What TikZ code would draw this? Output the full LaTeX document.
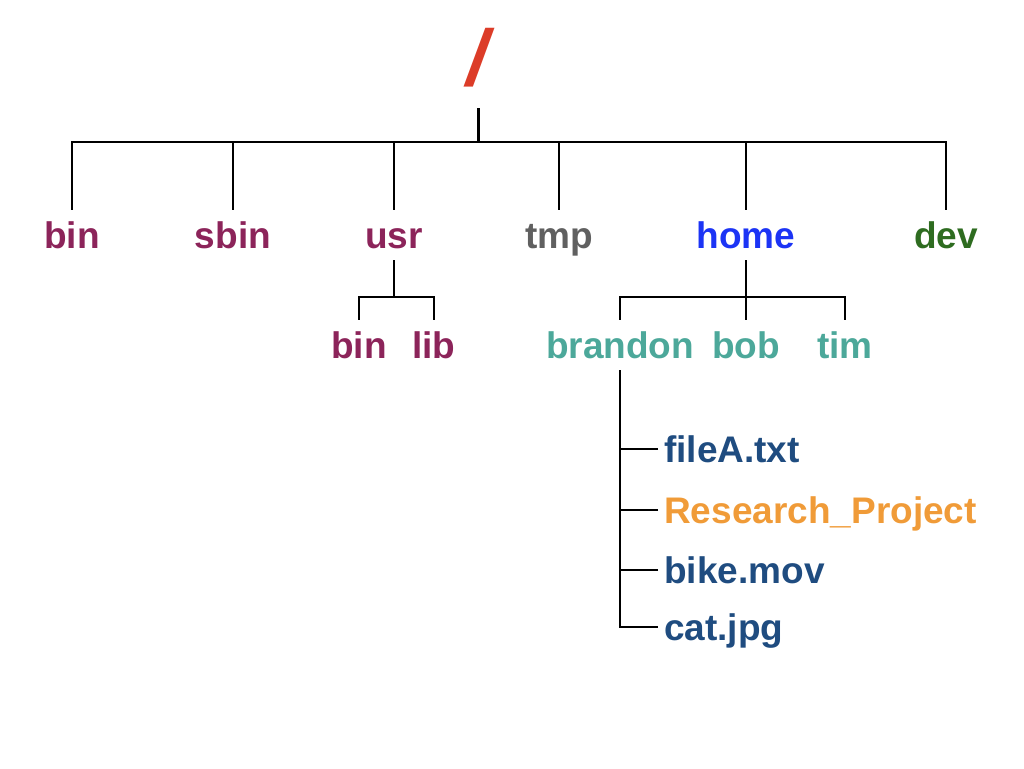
\documentclass[tikz,border=0pt]{standalone}
\usepackage{fontspec}
\setmainfont{Liberation Sans}
\newfontfamily\slashfont[FakeSlant=0.18]{Liberation Sans}
\definecolor{cpurple}{RGB}{140,36,90}
\definecolor{cgray}{RGB}{96,96,96}
\definecolor{cblue}{RGB}{28,52,245}
\definecolor{cgreen}{RGB}{46,108,32}
\definecolor{cteal}{RGB}{76,168,154}
\definecolor{cnavy}{RGB}{31,76,128}
\definecolor{corange}{RGB}{240,155,56}
\definecolor{cred}{RGB}{220,60,40}
\begin{document}
\begin{tikzpicture}[x=1pt,y=-1pt,
  lbl/.style={font=\fontsize{37}{40}\selectfont\bfseries, anchor=base,
    text height=26pt, text depth=0pt, inner ysep=12pt, inner xsep=0pt},
  filelbl/.style={lbl, anchor=base west, inner xsep=6pt},
  tree/.style={line width=2pt, black}]
\useasboundingbox (0,0) rectangle (1024,768);
% root
\node[font=\slashfont\fontsize{79}{80}\selectfont\bfseries, text=cred, anchor=base,
  text height=56pt, text depth=0pt, inner ysep=22.5pt, inner xsep=0pt] (root) at (474,85.5) {/};
% level 1
\node[lbl, text=cpurple] (bin) at (72,248) {bin};
\node[lbl, text=cpurple] (sbin) at (233,248) {sbin};
\node[lbl, text=cpurple] (usr) at (394,248) {usr};
\node[lbl, text=cgray] (tmp) at (559,248) {tmp};
\node[lbl, text=cblue] (home) at (746,248) {home};
\node[lbl, text=cgreen] (dev) at (946,248) {dev};
% level 2
\node[lbl, text=cpurple] (ubin) at (359,358) {bin};
\node[lbl, text=cpurple] (lib) at (434,358) {lib};
\node[lbl, text=cteal] (brandon) at (620,358) {brandon};
\node[lbl, text=cteal] (bob) at (746,358) {bob};
\node[lbl, text=cteal] (tim) at (845,358) {tim};
% files
\node[filelbl, text=cnavy] (fileA) at (658,462) {fileA.txt};
\node[filelbl, text=corange] (research) at (658,523) {Research\_Project};
\node[filelbl, text=cnavy] (bike) at (658,583) {bike.mov};
\node[filelbl, text=cnavy] (cat) at (658,640) {cat.jpg};
% junctions
\coordinate (rj) at (478,142);
\coordinate (uj) at (394,297);
\coordinate (hj) at (746,297);
% connectors
\draw[line width=3pt] (root.south -| rj) -- (rj);
\draw[tree] (bin.north) |- (rj) -| (dev.north);
\foreach \n in {sbin,usr,tmp,home} \draw[tree] (\n.north) -- (\n.north |- rj);
\draw[tree] (ubin.north) |- (uj) -| (lib.north);
\draw[tree] (usr.south) -- (uj);
\draw[tree] (brandon.north) |- (hj) -| (tim.north);
\draw[tree] (home.south) -- (hj);
\draw[tree] (bob.north) -- (hj);
\draw[tree] (brandon.south) |- (cat.west);
\foreach \n in {fileA,research,bike} \draw[tree] (\n.west) -- (\n.west -| brandon.south);
\end{tikzpicture}
\end{document}
